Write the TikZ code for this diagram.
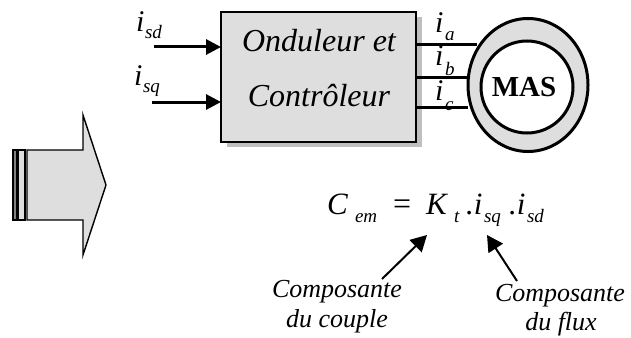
\documentclass[tikz,border=0pt]{standalone}
\usepackage{fontspec}
\setmainfont{Liberation Serif}
\usetikzlibrary{arrows.meta,patterns,shapes.geometric}
\tikzset{
  x=1pt,y=-1pt,
  wire/.style={line width=3pt,black},
  sig/.style={line width=3pt,black,-{Triangle[length=15pt,width=15pt]}},
  call/.style={line width=2pt,black,-{Triangle[length=16pt,width=17pt]}},
  lab/.style={inner sep=0pt,outer sep=0pt,font=\fontsize{30}{32}\selectfont\itshape},
  body/.style={inner sep=0pt,outer sep=0pt,font=\fontsize{32}{34}\selectfont\itshape},
  cap1/.style={inner sep=0pt,outer sep=0pt,font=\fontsize{26}{28}\selectfont\itshape},
  sub/.style={font=\fontsize{19}{21}\selectfont\itshape,inner sep=0pt,outer sep=0pt},
  eqn/.style={inner sep=0pt,outer sep=0pt,anchor=base west,font=\fontsize{31}{33}\selectfont\itshape},
}
\definecolor{fillg}{gray}{0.87}
\begin{document}
\begin{tikzpicture}
\useasboundingbox (0,0) rectangle (631,337);
% shadow
\fill[gray!50] (227,17) rectangle (422,147);
% box
\node[draw=black,line width=1.8pt,fill=fillg,minimum width=195pt,minimum height=130pt,inner sep=0pt,outer sep=0pt,anchor=north west] (box) at (221,12) {};
\node[body,anchor=base] (t1) at (319,52) {Onduleur et};
\node[body,anchor=base] (t2) at (319,106) {Contrôleur};
% motor
\node[draw=black,line width=3pt,fill=fillg,ellipse,minimum width=120pt,minimum height=133pt,inner sep=0pt] (outer) at (528,85) {};
\node[draw=black,line width=3pt,fill=white,circle,minimum size=92pt,inner sep=0pt] (rotor) at (527,87) {};
\node[inner sep=0pt,font=\fontsize{29}{31}\selectfont\bfseries] (mas) at (524,87) {MAS};
% inputs
\coordinate (a1) at (154,47);
\coordinate (a2) at (152,102);
\draw[sig] (a1) -- (a1-|box.west);
\draw[sig] (a2) -- (a2-|box.west);
\node[lab,anchor=base west] (isd) at (136,32) {i};
\node[sub,anchor=base west] (isds) at (145,39) {sd};
\node[lab,anchor=base west] (isq) at (134,85) {i};
\node[sub,anchor=base west] (isqs) at (143,92) {sq};
% phase labels
\node[lab,anchor=base west] (ia) at (435,33) {i};
\node[sub,anchor=base west] (ias) at (445,41) {a};
\node[lab,anchor=base west] (ib) at (435,66) {i};
\node[sub,anchor=base west] (ibs) at (445,75) {b};
\node[lab,anchor=base west] (ic) at (435,100) {i};
\node[sub,anchor=base west] (ics) at (445,110) {c};
% wires
\coordinate (w1) at (477,45);
\coordinate (w2) at (467,77);
\coordinate (w3) at (468,107);
\draw[wire] (w1-|box.east) -- (w1);
\draw[wire] (w2-|box.east) -- (w2);
\draw[wire] (w3-|box.east) -- (w3);
% big arrow
\draw[line width=1.4pt,fill=fillg,line join=miter] (27,150) -- (83,150) -- (83,115) -- (106,185) -- (83,255) -- (83,220) -- (27,220) -- cycle;
\draw[line width=1.2pt,fill=gray] (13,150) rectangle (17,220);
\draw[line width=1.2pt,fill=fillg] (18.5,150) rectangle (25,220);
% equation
\node[eqn] (C) at (327,214) {C};
\node[sub,anchor=base west] (em) at (355,222) {em};
\node[eqn,font=\fontsize{32}{34}\selectfont] (eq) at (393,214) {=};
\node[eqn] (K) at (426,214) {K};
\node[sub,anchor=base west] (kt) at (454,222) {t};
\node[eqn] (i1) at (466,214) {.i};
\node[sub,anchor=base west] (isq2) at (484,222) {sq};
\node[eqn] (i2) at (509,214) {.i};
\node[sub,anchor=base west] (isd2) at (527,222) {sd};
% captions
\node[cap1,anchor=base] (c1a) at (337,297) {Composante};
\node[cap1,anchor=base] (c1b) at (337,327) {du couple};
\node[cap1,anchor=base] (c2a) at (560,301) {Composante};
\node[cap1,anchor=base] (c2b) at (561,330) {du flux};
\coordinate (tipa) at (427,235);
\coordinate (tipb) at (487,235);
\coordinate (sta) at (382,279);
\coordinate (stb) at (517,281);
\draw[call] (sta) -- (tipa);
\draw[call] (stb) -- (tipb);
\end{tikzpicture}
\end{document}
